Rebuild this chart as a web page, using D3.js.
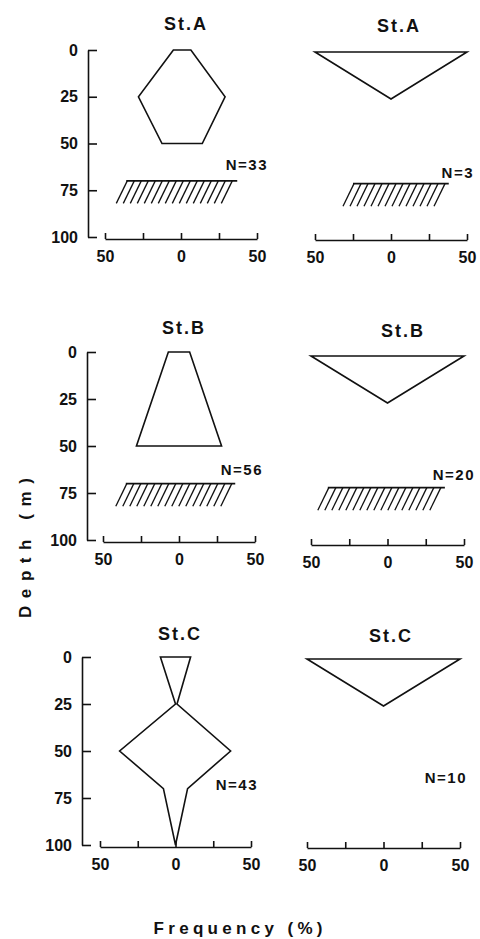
<!DOCTYPE html>
<html>
<head>
<meta charset="utf-8">
<script src="https://cdn.jsdelivr.net/npm/d3@7"></script>
<style>
  html, body { margin: 0; padding: 0; background: #fff; }
  svg { display: block; }
  text { font-family: "Liberation Sans", Arial, Helvetica, sans-serif; font-weight: bold; fill: #111; }
</style>
</head>
<body>
<svg id="chart" width="480" height="939"></svg>
<script>
// ---------------- DATA ----------------
const stationTitles = ["St.A", "St.A", "St.B", "St.B", "St.C", "St.C"];
const nValues = [33, 3, 56, 20, 43, 10];
const depthTicks = [0, 25, 50, 75, 100];
const freqTicks = [-50, -25, 0, 25, 50];
const freqLabelTicks = [-50, 0, 50];

// kite profiles: depth (m), left edge (%), right edge (%)
const depthA1 = [0, 25, 50];
const leftA1  = [-5, -28, -12.5];
const rightA1 = [6.5, 29, 14];

const depthA2 = [0, 25];
const leftA2  = [-50, 0];
const rightA2 = [50, 0];

const depthB1 = [0, 50];
const leftB1  = [-7, -28];
const rightB1 = [7, 28];

const depthB2 = [0, 25];
const leftB2  = [-50, 0];
const rightB2 = [50, 0];

const depthC1 = [0, 25, 50, 70, 100];
const leftC1  = [-10, 0, -37, -8, 0];
const rightC1 = [10, 1, 36.5, 8, 0];

const depthC2 = [0, 25];
const leftC2  = [-50, 0];
const rightC2 = [50, 0];

// bottom (hatched) marks: top depth, bottom depth, left %, right %
const hatchTop    = [70, 70, 70, 70, null, null];
const hatchBottom = [82, 82, 82, 82, null, null];
const hatchLeft   = [-36, -25, -35, -39, null, null];
const hatchRight  = [37, 38, 37, 37.5, null, null];

const profiles = [
  [depthA1, leftA1, rightA1], [depthA2, leftA2, rightA2],
  [depthB1, leftB1, rightB1], [depthB2, leftB2, rightB2],
  [depthC1, leftC1, rightC1], [depthC2, leftC2, rightC2]
];

// ---------------- LAYOUT ----------------
const layout = [
  { x0: 105, x1: 257, yTop: 50,  yBot: 237, axisY: 239, yAxisX: 88,  tx: 186, ty: 30,  nx: 268, ny: 170 },
  { x0: 315, x1: 467, yTop: 52,  yBot: 240, axisY: 240, yAxisX: null, tx: 399, ty: 32,  nx: 474, ny: 178 },
  { x0: 103, x1: 255, yTop: 352, yBot: 540, axisY: 542, yAxisX: 87,  tx: 184, ty: 334, nx: 263, ny: 475 },
  { x0: 311, x1: 464, yTop: 356, yBot: 544, axisY: 545, yAxisX: null, tx: 403, ty: 337, nx: 475, ny: 480 },
  { x0: 100, x1: 251, yTop: 657, yBot: 845, axisY: 847, yAxisX: 82,  tx: 180, ty: 640, nx: 258, ny: 790 },
  { x0: 307, x1: 460, yTop: 659, yBot: 847, axisY: 848, yAxisX: null, tx: 391, ty: 642, nx: 467, ny: 783 }
];

const svg = d3.select("#chart");
const stroke = "#111";

layout.forEach((L, i) => {
  const x = d3.scaleLinear().domain([-50, 50]).range([L.x0, L.x1]);
  const y = d3.scaleLinear().domain([0, 100]).range([L.yTop, L.yBot]);
  const g = svg.append("g");

  // title
  g.append("text")
    .attr("x", L.tx).attr("y", L.ty)
    .attr("text-anchor", "middle")
    .attr("font-size", 18)
    .attr("letter-spacing", 2)
    .text(stationTitles[i]);

  // y axis (left panels)
  if (L.yAxisX !== null) {
    const ya = d3.axisLeft(y).tickValues(depthTicks).tickSize(-9).tickSizeOuter(0).tickPadding(10).tickFormat(d3.format("d"));
    const yg = g.append("g").attr("transform", `translate(${L.yAxisX},0)`).call(ya);
    yg.select(".domain").attr("stroke", stroke).attr("stroke-width", 1.6);
    yg.selectAll(".tick line").attr("stroke", stroke).attr("stroke-width", 1.6);
    yg.selectAll(".tick text").attr("font-size", 16).attr("font-family", null).attr("fill", "#111");
  }

  // x axis
  const xa = d3.axisBottom(x).tickValues(freqTicks).tickSize(-6).tickSizeOuter(0).tickPadding(12)
    .tickFormat(d => freqLabelTicks.includes(d) ? String(Math.abs(d)) : "");
  const xg = g.append("g").attr("transform", `translate(0,${L.axisY})`).call(xa);
  xg.select(".domain").attr("stroke", stroke).attr("stroke-width", 1.6);
  xg.selectAll(".tick line").attr("stroke", stroke).attr("stroke-width", 1.6);
  xg.selectAll(".tick text").attr("font-size", 16).attr("font-family", null).attr("fill", "#111");

  // kite polygon
  const [dep, lf, rt] = profiles[i];
  const pts = dep.map((d, k) => [x(lf[k]), y(d)])
    .concat(dep.map((d, k) => [x(rt[k]), y(d)]).reverse());
  g.append("path")
    .attr("d", d3.line().curve(d3.curveLinearClosed)(pts))
    .attr("fill", "none").attr("stroke", stroke).attr("stroke-width", 1.6)
    .attr("stroke-linejoin", "miter");

  // hatched bottom
  if (hatchTop[i] !== null) {
    const yt = y(hatchTop[i]), yb = y(hatchBottom[i]);
    const xl = x(hatchLeft[i]), xr = x(hatchRight[i]);
    g.append("line").attr("x1", xl).attr("x2", xr).attr("y1", yt).attr("y2", yt)
      .attr("stroke", stroke).attr("stroke-width", 1.6);
    const step = 7, slant = 11;
    const starts = d3.range(xl + 1, xr - 3, step);
    g.selectAll(null).data(starts).enter().append("line")
      .attr("x1", d => d).attr("y1", yt)
      .attr("x2", d => d - slant).attr("y2", yb)
      .attr("stroke", stroke).attr("stroke-width", 1.3);
  }

  // N label
  g.append("text")
    .attr("x", L.nx).attr("y", L.ny)
    .attr("text-anchor", "end")
    .attr("font-size", 15)
    .attr("letter-spacing", 1.5)
    .text("N=" + nValues[i]);
});

// axis titles
svg.append("text")
  .attr("transform", "translate(31,548) rotate(-90)")
  .attr("text-anchor", "middle")
  .attr("font-size", 17)
  .attr("textLength", 140).attr("lengthAdjust", "spacing")
  .text("Depth (m)");

svg.append("text")
  .attr("x", 238).attr("y", 934)
  .attr("text-anchor", "middle")
  .attr("font-size", 17)
  .attr("textLength", 169).attr("lengthAdjust", "spacing")
  .text("Frequency (%)");
</script>
</body>
</html>
